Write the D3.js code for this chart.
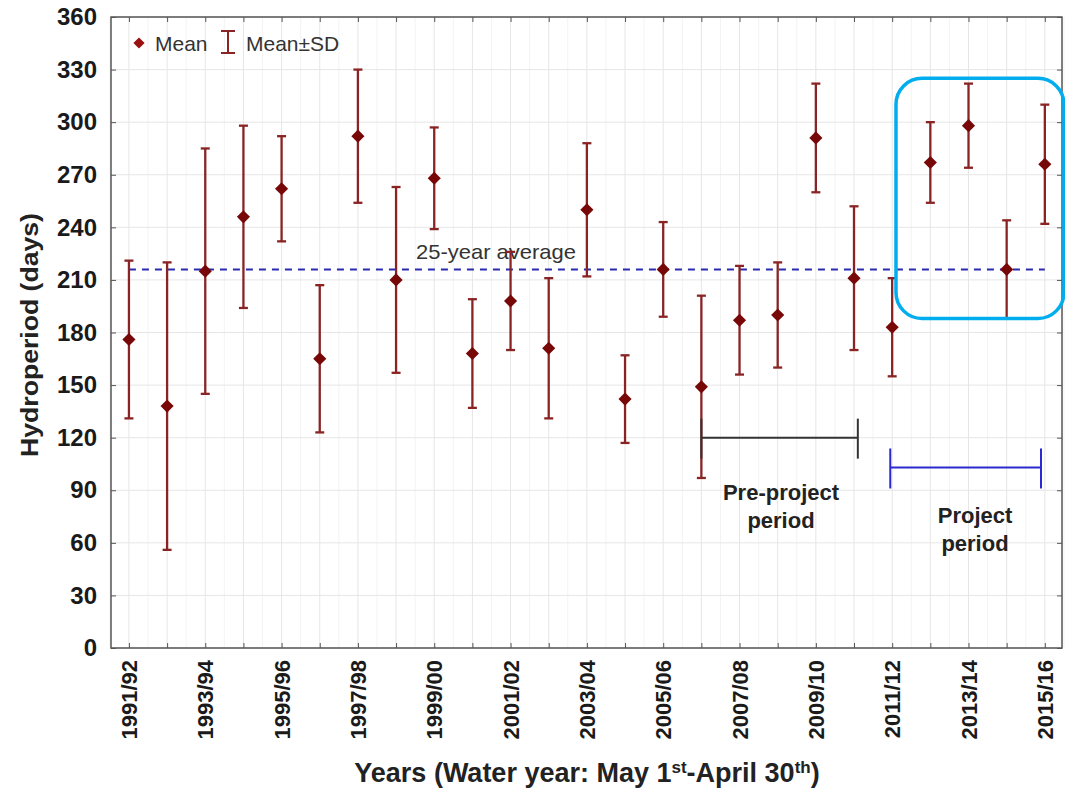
<!DOCTYPE html>
<html>
<head>
<meta charset="utf-8">
<script src="https://cdn.jsdelivr.net/npm/d3@7"></script>
<style>
  body { margin: 0; background: #fff; }
  svg { display: block; font-family: Arial, "Liberation Sans", sans-serif; }
</style>
</head>
<body>
<div id="chart"></div>
<script>
// water years, every one has a point; only every other one gets a label
var years = ["1991/92","1992/93","1993/94","1994/95","1995/96","1996/97","1997/98","1998/99",
  "1999/00","2000/01","2001/02","2002/03","2003/04","2004/05","2005/06","2006/07","2007/08",
  "2008/09","2009/10","2010/11","2011/12","2012/13","2013/14","2014/15","2015/16"];
var means = [176, 138, 215, 246, 262, 165, 292, 210, 268, 168, 198, 171, 250, 142, 216,
  149, 187, 190, 291, 211, 183, 277, 298, 216, 276];
var sds = [45, 82, 70, 52, 30, 42, 38, 53, 29, 31, 28, 40, 38, 25, 27,
  52, 31, 30, 31, 41, 28, 23, 24, 28, 34];
var yTicks = [0, 30, 60, 90, 120, 150, 180, 210, 240, 270, 300, 330, 360];
var average = 216;
var prePeriod = [15, 19.1], preLevel = 120;
var projPeriod = [19.95, 23.9], projLevel = 103;
var highlightX = [20.1, 24.5], highlightY = [188, 325];

var W = 1065, H = 790;
var pLeft = 111, pRight = 1062, pTop = 17, pBottom = 648;

var svg = d3.select("#chart").append("svg").attr("width", W).attr("height", H);

var x = d3.scaleLinear().domain([-0.47, 24.45]).range([pLeft, pRight]);
var y = d3.scaleLinear().domain([0, 360]).range([pBottom, pTop]);

// grid
var grid = svg.append("g");
var idx = d3.range(years.length);
grid.selectAll(".vmin").data(d3.range(-0.5, 24.6, 1)).enter().append("line")
  .attr("x1", d => x(d)).attr("x2", d => x(d)).attr("y1", pTop).attr("y2", pBottom)
  .attr("stroke", "#f3f3f3").attr("stroke-width", 1);
grid.selectAll(".vmaj").data(idx).enter().append("line")
  .attr("x1", d => x(d)).attr("x2", d => x(d)).attr("y1", pTop).attr("y2", pBottom)
  .attr("stroke", "#e6e6e6").attr("stroke-width", 1);
grid.selectAll(".h").data(yTicks).enter().append("line")
  .attr("x1", pLeft).attr("x2", pRight).attr("y1", d => y(d)).attr("y2", d => y(d))
  .attr("stroke", "#e6e6e6").attr("stroke-width", 1);

// frame + inward ticks
svg.append("rect").attr("x", pLeft).attr("y", pTop).attr("width", pRight - pLeft).attr("height", pBottom - pTop)
  .attr("fill", "none").attr("stroke", "#555").attr("stroke-width", 1.5);

svg.append("g").attr("transform", "translate(0," + pBottom + ")")
  .call(d3.axisBottom(x).tickValues(idx).tickSize(-5).tickFormat(""))
  .call(g => g.select(".domain").remove())
  .selectAll("line").attr("stroke", "#555");
svg.append("g").attr("transform", "translate(0," + pTop + ")")
  .call(d3.axisTop(x).tickValues(idx).tickSize(-5).tickFormat(""))
  .call(g => g.select(".domain").remove())
  .selectAll("line").attr("stroke", "#555");
svg.append("g").attr("transform", "translate(" + pRight + ",0)")
  .call(d3.axisRight(y).tickValues(yTicks).tickSize(-5).tickFormat(""))
  .call(g => g.select(".domain").remove())
  .selectAll("line").attr("stroke", "#555");

var yAxis = svg.append("g").attr("transform", "translate(" + pLeft + ",0)")
  .call(d3.axisLeft(y).tickValues(yTicks).tickSize(-5).tickPadding(14));
yAxis.select(".domain").remove();
yAxis.selectAll("line").attr("stroke", "#555");
yAxis.selectAll("text").attr("font-size", 24).attr("font-weight", "bold")
  .attr("fill", "#1a1a1a").attr("font-family", "Arial, 'Liberation Sans', sans-serif");

// x labels, every other year, rotated
svg.append("g").selectAll("text").data(idx.filter(i => i % 2 === 0)).enter().append("text")
  .attr("transform", d => "translate(" + (x(d) + 8) + "," + (pBottom + 12) + ") rotate(-90)")
  .attr("text-anchor", "end")
  .attr("font-size", 22).attr("font-weight", "bold").attr("fill", "#1a1a1a")
  .text(d => years[d]);

// 25-year average
svg.append("line")
  .attr("x1", x(0)).attr("x2", x(24)).attr("y1", y(average)).attr("y2", y(average))
  .attr("stroke", "#2b2bb0").attr("stroke-width", 2).attr("stroke-dasharray", "7,6");
svg.append("text").attr("x", 416).attr("y", y(average) - 10)
  .attr("font-size", 21).attr("fill", "#333").attr("textLength", 160)
  .attr("lengthAdjust", "spacingAndGlyphs").text("25-year average");

// error bars
var bars = svg.append("g").attr("stroke", "#8a2424").attr("stroke-width", 2.3);
var cap = 4.5;
bars.selectAll(".w").data(idx).enter().append("line")
  .attr("x1", d => x(d)).attr("x2", d => x(d))
  .attr("y1", d => y(means[d] + sds[d])).attr("y2", d => y(means[d] - sds[d]));
bars.selectAll(".cu").data(idx).enter().append("line")
  .attr("x1", d => x(d) - cap).attr("x2", d => x(d) + cap)
  .attr("y1", d => y(means[d] + sds[d])).attr("y2", d => y(means[d] + sds[d]));
bars.selectAll(".cl").data(idx).enter().append("line")
  .attr("x1", d => x(d) - cap).attr("x2", d => x(d) + cap)
  .attr("y1", d => y(means[d] - sds[d])).attr("y2", d => y(means[d] - sds[d]));

var diamond = d3.symbol().type(d3.symbolDiamond2).size(110);
svg.append("g").selectAll("path").data(idx).enter().append("path")
  .attr("d", diamond)
  .attr("transform", d => "translate(" + x(d) + "," + y(means[d]) + ")")
  .attr("fill", "#780808");

// period brackets
function bracket(span, level, color, w) {
  var g = svg.append("g").attr("stroke", color).attr("stroke-width", w);
  g.append("line").attr("x1", x(span[0])).attr("x2", x(span[1]))
    .attr("y1", y(level)).attr("y2", y(level));
  g.selectAll(".c").data(span).enter().append("line")
    .attr("x1", d => x(d)).attr("x2", d => x(d))
    .attr("y1", y(level) - 19).attr("y2", y(level) + 21);
}
bracket(prePeriod, preLevel, "#333", 2);
bracket(projPeriod, projLevel, "#2a2ad0", 2);

function label(cx, cy, lines) {
  svg.append("g").selectAll("text").data(lines).enter().append("text")
    .attr("x", cx).attr("y", (d, i) => cy + i * 28)
    .attr("text-anchor", "middle").attr("font-size", 22).attr("font-weight", "bold")
    .attr("fill", "#222").text(d => d);
}
label(781, 500, ["Pre-project", "period"]);
label(975, 523, ["Project", "period"]);

// highlight box
svg.append("rect")
  .attr("x", x(highlightX[0])).attr("y", y(highlightY[1]))
  .attr("width", x(highlightX[1]) - x(highlightX[0]))
  .attr("height", y(highlightY[0]) - y(highlightY[1]))
  .attr("rx", 26).attr("ry", 26)
  .attr("fill", "none").attr("stroke", "#00aeef").attr("stroke-width", 3.5);

// legend
var lg = svg.append("g");
lg.append("path").attr("d", d3.symbol().type(d3.symbolDiamond2).size(80))
  .attr("transform", "translate(139,43)").attr("fill", "#9a1010");
lg.append("text").attr("x", 155).attr("y", 51).attr("font-size", 21).attr("fill", "#333").text("Mean");
lg.append("path").attr("d", "M221,31H235M228,31V53M221,53H235")
  .attr("stroke", "#8a2424").attr("stroke-width", 2).attr("fill", "none");
lg.append("text").attr("x", 246).attr("y", 51).attr("font-size", 21).attr("fill", "#333").text("Mean±SD");

// axis titles
svg.append("text")
  .attr("transform", "translate(38,335) rotate(-90)")
  .attr("text-anchor", "middle").attr("font-size", 23).attr("font-weight", "bold")
  .attr("fill", "#222").attr("textLength", 244).attr("lengthAdjust", "spacingAndGlyphs")
  .text("Hydroperiod (days)");

var xt = svg.append("text").attr("x", 587).attr("y", 782)
  .attr("text-anchor", "middle").attr("font-size", 27).attr("font-weight", "bold")
  .attr("fill", "#222");
xt.append("tspan").text("Years (Water year: May 1");
xt.append("tspan").attr("dy", -9).attr("font-size", 17).text("st");
xt.append("tspan").attr("dy", 9).text("-April 30");
xt.append("tspan").attr("dy", -9).attr("font-size", 17).text("th");
xt.append("tspan").attr("dy", 9).text(")");
</script>
</body>
</html>
